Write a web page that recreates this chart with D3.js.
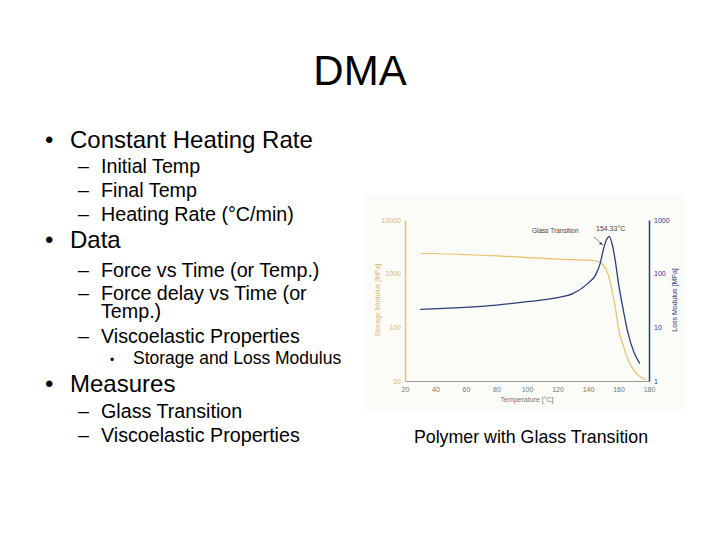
<!DOCTYPE html>
<html>
<head>
<script src="https://d3js.org/d3.v7.min.js"></script>
<style>body{margin:0;background:#fff}</style>
</head>
<body>
<script>
// slide outline
const bullets = [
  {lvl: 1, y: 148, t: "Constant Heating Rate"},
  {lvl: 2, y: 173, t: "Initial Temp"},
  {lvl: 2, y: 197, t: "Final Temp"},
  {lvl: 2, y: 221, t: "Heating Rate (°C/min)"},
  {lvl: 1, y: 248, t: "Data"},
  {lvl: 2, y: 277, t: "Force vs Time (or Temp.)"},
  {lvl: 2, y: 300, t: "Force delay vs Time (or"},
  {lvl: 0, y: 318, t: "Temp.)"},
  {lvl: 2, y: 343, t: "Viscoelastic Properties"},
  {lvl: 3, y: 364, t: "Storage and Loss Modulus"},
  {lvl: 1, y: 392, t: "Measures"},
  {lvl: 2, y: 418, t: "Glass Transition"},
  {lvl: 2, y: 442, t: "Viscoelastic Properties"}
];

// storage modulus (MPa), left log axis
const storageT = [30, 80, 120, 145, 150, 153, 155, 158, 160, 163, 166, 170, 175, 178];
const storageV = [2400, 2150, 1870, 1740, 1450, 1000, 610, 225, 95, 47, 26, 16, 11.5, 10.5];
// loss modulus (MPa), right log axis
const lossT = [30, 80, 100, 120, 130, 140, 145, 148, 150, 152, 154, 156, 158, 160, 163, 166, 170, 174];
const lossV = [21.6, 26, 30, 35.7, 42.5, 66, 95, 155, 275, 425, 490, 340, 166, 66, 22, 8.3, 3.5, 2.1];
const xTicks = [20, 40, 60, 80, 100, 120, 140, 160, 180];
const leftTicks = [10, 100, 1000, 10000];
const rightTicks = [1, 10, 100, 1000];

const svg = d3.select("body").append("svg").attr("width", 720).attr("height", 540)
  .style("font-family", "Arial, 'Liberation Sans', sans-serif");

svg.append("text").attr("x", 360).attr("y", 85).attr("text-anchor", "middle")
  .attr("font-size", 42).text("DMA");

const sizes = {1: 24, 2: 19.7, 0: 19.7, 3: 17.5};
bullets.forEach(b => {
  const g = svg.append("g").attr("font-size", sizes[b.lvl]);
  if (b.lvl === 1) {
    g.append("text").attr("x", 45).attr("y", b.y).text("•");
    g.append("text").attr("x", 70).attr("y", b.y).text(b.t);
  } else if (b.lvl === 2) {
    g.append("text").attr("x", 78).attr("y", b.y).text("–");
    g.append("text").attr("x", 101).attr("y", b.y).text(b.t);
  } else if (b.lvl === 0) {
    g.append("text").attr("x", 101).attr("y", b.y).text(b.t);
  } else {
    g.append("text").attr("x", 110).attr("y", b.y).attr("font-size", 12).text("•");
    g.append("text").attr("x", 133).attr("y", b.y).text(b.t);
  }
});

// chart picture
svg.append("rect").attr("x", 365).attr("y", 195).attr("width", 320).attr("height", 215).attr("fill", "#fbfbf8");

const x = d3.scaleLinear().domain([20, 180]).range([405, 649]);
const yL = d3.scaleLog().domain([10, 10000]).range([381, 220]);
const yR = d3.scaleLog().domain([1, 1000]).range([381, 220]);
const yellow = "#e6c06a", navy = "#2b3f78", grey = "#777";

svg.append("g").attr("transform", "translate(0,381)")
  .call(d3.axisBottom(x).tickValues(xTicks).tickSize(0).tickPadding(6))
  .call(g => g.select(".domain").attr("stroke", "#999"))
  .call(g => g.selectAll("text").attr("font-size", 7).attr("fill", grey));
svg.append("g").attr("transform", "translate(405,0)")
  .call(d3.axisLeft(yL).tickValues(leftTicks).tickFormat(d3.format("d")).tickSize(0).tickPadding(4))
  .call(g => g.select(".domain").attr("stroke", yellow).attr("stroke-width", 1.5))
  .call(g => g.selectAll("text").attr("font-size", 7).attr("fill", "#d8b870"));
svg.append("g").attr("transform", "translate(649,0)")
  .call(d3.axisRight(yR).tickValues(rightTicks).tickFormat(d3.format("d")).tickSize(0).tickPadding(5))
  .call(g => g.select(".domain").attr("stroke", navy).attr("stroke-width", 1.5))
  .call(g => g.selectAll("text").attr("font-size", 7).attr("fill", navy));

svg.append("text").attr("x", 527).attr("y", 402).attr("text-anchor", "middle")
  .attr("font-size", 7).attr("fill", grey).text("Temperature [°C]");
svg.append("text").attr("transform", "translate(380,300) rotate(-90)").attr("text-anchor", "middle")
  .attr("font-size", 7).attr("fill", "#d8b870").text("Storage Modulus [MPa]");
svg.append("text").attr("transform", "translate(677,300) rotate(-90)").attr("text-anchor", "middle")
  .attr("font-size", 7).attr("fill", navy).text("Loss Modulus [MPa]");

const line = (ys) => d3.line().x(d => x(d[0])).y(d => ys(d[1])).curve(d3.curveMonotoneX);
svg.append("path").attr("d", line(yL)(d3.zip(storageT, storageV)))
  .attr("fill", "none").attr("stroke", yellow).attr("stroke-width", 1.2);
svg.append("path").attr("d", line(yR)(d3.zip(lossT, lossV)))
  .attr("fill", "none").attr("stroke", navy).attr("stroke-width", 1.3);

svg.append("text").attr("x", 532).attr("y", 233).attr("font-size", 6.5).attr("fill", "#444").text("Glass Transition");
svg.append("text").attr("x", 596).attr("y", 231).attr("font-size", 7).attr("fill", "#444").text("154.33°C");
svg.append("line").attr("x1", 594).attr("y1", 237).attr("x2", 603).attr("y2", 245)
  .attr("stroke", "#444").attr("stroke-width", 0.6);
svg.append("path").attr("d", "M603,245 l-4,-1 l2,-2 z").attr("fill", "#444");

svg.append("text").attr("x", 531).attr("y", 443).attr("text-anchor", "middle")
  .attr("font-size", 17.8).text("Polymer with Glass Transition");
</script>
</body>
</html>
